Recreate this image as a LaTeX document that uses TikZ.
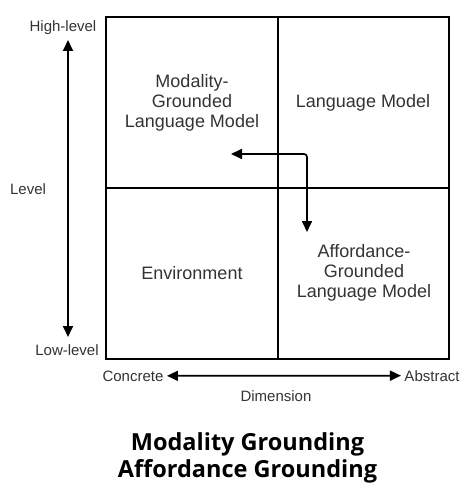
\documentclass[tikz,border=0pt]{standalone}
\usepackage{fontspec}
\setmainfont{Liberation Sans}
\newfontfamily\titlefont{Open Sans}
\usetikzlibrary{arrows.meta, positioning}
\definecolor{labelgray}{rgb}{0.2,0.2,0.2}

\begin{document}
\begin{tikzpicture}[
    x=1pt, y=-1pt,
    >={Triangle[length=11pt, width=10pt]},
    every node/.style={font=\fontsize{15}{18}\selectfont, text=labelgray},
    cell/.style={align=center, font=\fontsize{18}{20}\selectfont},
    heading/.style={anchor=base, text=black, font=\titlefont\bfseries\fontsize{23.5}{27}\selectfont},
    grid line/.style={line width=2pt},
    axis/.style={<->, line width=1.7pt}
]
    \useasboundingbox (0,0) rectangle (474,494);

    % --- Quadrants ---
    \draw[grid line] (106,17) rectangle (449,359);
    \draw[grid line] (278,17) -- (278,359);
    \draw[grid line] (106,188) -- (449,188);

    \node[cell] (mglm) at (192,103) {Modality-\\Grounded\\Language Model};
    \node[cell] (lm)   at (363,103) {Language Model};
    \node[cell] (env)  at (192,273) {Environment};
    \node[cell] (aglm) at (364,273) {Affordance-\\Grounded\\Language Model};

    % --- Grounding arrow ---
    \coordinate (mg) at (231,154);
    \coordinate (ag) at (307,232);
    \draw[axis, rounded corners=3pt] (mg) -| (ag);

    % --- Axes ---
    \node[anchor=base] (high)  at (63,32)  {High-level};
    \node[anchor=base] (low)   at (67,355) {Low-level};
    \node[anchor=base] (level) at (28,194) {Level};
    \coordinate (vtop) at (68,40);
    \coordinate (vbot) at (68,337);
    \draw[axis] (vtop) -- (vbot);

    \node[anchor=base] (concrete)  at (133,381) {Concrete};
    \node[anchor=base] (abstract)  at (432,381) {Abstract};
    \node[anchor=base] (dimension) at (276,401) {Dimension};
    \draw[axis] (concrete.east) -- (abstract.west);

    % --- Title ---
    \node[heading] (title1) at (247.5,450) {Modality Grounding};
    \node[heading] (title2) at (247.5,477) {Affordance Grounding};
\end{tikzpicture}
\end{document}
